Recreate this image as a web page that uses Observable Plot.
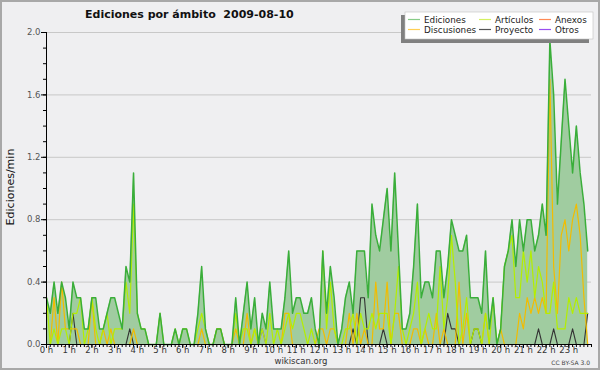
<!DOCTYPE html>
<html><head><meta charset="utf-8">
<script src="https://cdn.jsdelivr.net/npm/d3@7"></script>
<script src="https://cdn.jsdelivr.net/npm/@observablehq/plot@0.6"></script>
<style>
body{margin:0;background:#efeff1;}
#chart{width:600px;height:370px;position:relative;}
svg{display:block;}
</style></head><body><div id="chart"></div>
<script>
const title = "Ediciones por ámbito  2009-08-10";
const yLabel = "Ediciones/min";
const sourceText = "wikiscan.org";
const licenseText = "CC BY-SA 3.0";
const hourLabels = ["0 h","1 h","2 h","3 h","4 h","5 h","6 h","7 h","8 h","9 h","10 h","11 h","12 h","13 h","14 h","15 h","16 h","17 h","18 h","19 h","20 h","21 h","22 h","23 h"];
const yTicks = [0, 0.4, 0.8, 1.2, 1.6, 2.0];
const legendNames = ["Ediciones","Artículos","Anexos","Discusiones","Proyecto","Otros"];

// edits per minute, one value per 10-minute slot (144 slots)
const ediciones = [0.3,0.2,0.4,0.2,0.4,0.3,0.1,0.4,0.3,0.3,
 0.1,0.1,0.3,0.3,0.1,0.1,0.2,0.3,0.3,0.2,
 0.1,0.5,0.4,1.1,0.2,0.1,0.1,0,0,0,
 0.2,0,0,0,0.1,0,0.1,0.1,0,0,
 0.2,0.5,0.1,0,0,0.1,0.1,0,0,0,
 0.3,0,0.2,0.4,0.1,0.3,0,0.2,0.1,0.4,
 0.1,0.1,0.1,0.3,0.6,0.2,0.3,0.3,0.2,0.2,
 0.3,0.1,0,0.6,0.2,0.5,0.3,0,0.1,0.3,
 0.4,0.2,0.6,0.6,0.6,0.3,0.9,0.7,0.6,0.8,
 1.0,0.6,1.1,0.6,0.1,0.1,0.2,0.5,0.9,0.3,
 0.4,0.4,0.3,0.6,0.6,0.3,0.5,0.8,0.7,0.6,
 0.6,0.7,0.3,0.3,0.3,0.2,0.6,0.1,0.3,0,
 0.1,0.5,0.6,0.8,0.5,0.8,0.6,0.8,0.8,0.6,
 0.7,0.9,0.7,1.95,1.6,0.9,1.3,1.7,1.4,1.1,
 1.4,1.1,0.9,0.6];
const articulos = [0.3,0,0.1,0,0.1,0.1,0,0.2,0.2,0.3,
 0,0.1,0.3,0.1,0,0.1,0.2,0,0.1,0.1,
 0.1,0.4,0.2,0.9,0.2,0.1,0.1,0,0,0,
 0.2,0,0,0,0.1,0,0.1,0.1,0,0,
 0.1,0.2,0.1,0,0,0.1,0.1,0,0,0,
 0.2,0,0.1,0.1,0,0.1,0,0.1,0,0.2,
 0,0.1,0,0.1,0.2,0.1,0.2,0.2,0.1,0,
 0.1,0,0,0.6,0.1,0.4,0.1,0,0,0.1,
 0.1,0.2,0,0.2,0.1,0.1,0.2,0.1,0.2,0.2,
 0.2,0,0.2,0.5,0.1,0,0.1,0.2,0.4,0,
 0.1,0.2,0.1,0.1,0.5,0.1,0.3,0.7,0.4,0,
 0.1,0.3,0,0.1,0.1,0,0.2,0,0.3,0,
 0.1,0.5,0.6,0.7,0.3,0.3,0.6,0.4,0.6,0.3,
 0.5,0.4,0.2,0.2,0.4,0.1,0.1,0.1,0.3,0.2,
 0.3,0.2,0.2,0.2];
const anexos = new Array(144).fill(0);
const discusiones = [0,0,0.3,0,0.4,0.1,0.1,0.1,0.1,0,
 0,0,0.3,0,0,0.1,0,0.1,0,0,
 0,0,0,0.1,0,0,0,0,0,0,
 0,0,0,0,0,0,0,0,0,0,
 0,0.1,0,0,0,0.1,0.1,0,0,0,
 0.1,0,0,0.2,0,0.1,0,0,0,0,
 0,0,0,0.2,0.2,0,0,0,0,0,
 0,0,0.1,0.1,0,0.1,0.1,0,0,0,
 0.2,0,0.2,0,0.1,0,0,0.4,0.1,0.1,
 0.4,0,0.2,0.2,0,0,0,0.1,0.1,0,
 0.1,0,0,0.2,0,0.1,0,0,0,0.4,
 0,0.2,0,0,0,0,0.2,0,0,0,
 0.1,0,0,0,0,0.2,0.1,0.3,0.2,0.3,
 0.2,0.3,0.2,1.7,0.5,0.2,0.7,0.8,0.6,0.8,
 0.9,0.7,0.3,0];
const proyecto = [0,0,0,0,0,0,0,0.2,0,0,
 0,0,0,0,0,0,0,0,0,0,
 0,0,0.1,0,0,0,0,0,0,0,
 0,0,0,0,0,0,0,0,0,0,
 0,0,0,0,0,0,0,0,0,0,
 0,0,0,0,0,0,0,0,0,0,
 0,0,0,0,0,0,0,0,0,0,
 0,0,0,0,0,0,0,0,0,0,
 0,0.1,0,0.3,0.3,0,0,0,0,0.1,
 0,0,0,0,0,0,0,0,0,0,
 0,0,0,0,0,0,0.2,0.1,0.1,0,
 0,0,0,0.1,0.1,0,0,0,0,0,
 0,0,0,0,0,0,0,0,0,0,
 0.1,0,0,0,0.1,0,0,0,0,0.1,
 0,0,0,0.2];
const otros = new Array(144).fill(0);
otros[57] = 0.1;

const idx = d3.range(ediciones.length);
const tx = i => i / 6;
const minorY = d3.range(0, 21).map(d => d / 10);
const minorX = d3.range(0, 145).map(d => d / 6);

const lineColors = {ed: "#3aae3a", art: "#b4ee00", disc: "#f2bc00", proj: "#333333", otros: "#8a2be2"};

const chart = Plot.plot({
  width: 600, height: 370,
  marginLeft: 46, marginRight: 9, marginTop: 32, marginBottom: 26,
  style: {background: "transparent", fontFamily: "DejaVu Sans", overflow: "visible"},
  x: {domain: [0, 24], axis: null},
  y: {domain: [0, 2], axis: null},
  marks: [
    Plot.gridY(yTicks.slice(1), {stroke: "#c8c8c8", strokeOpacity: 1, strokeWidth: 1}),
    Plot.areaY(idx, {x: tx, y: i => ediciones[i], fill: "#a0cca0", fillOpacity: 1}),
    Plot.lineY(idx, {x: tx, y: i => otros[i], stroke: lineColors.otros, strokeWidth: 1.2}),
    Plot.lineY(idx, {x: tx, y: i => proyecto[i], stroke: lineColors.proj, strokeWidth: 1.1}),
    Plot.lineY(idx, {x: tx, y: i => discusiones[i], stroke: lineColors.disc, strokeWidth: 1.2}),
    Plot.lineY(idx, {x: tx, y: i => articulos[i], stroke: lineColors.art, strokeWidth: 1.2}),
    Plot.lineY(idx, {x: tx, y: i => ediciones[i], stroke: lineColors.ed, strokeWidth: 1.5}),
    Plot.ruleY([0], {stroke: "#000"}),
    Plot.ruleX([0], {stroke: "#000"}),
    Plot.axisY({ticks: minorY, tickSize: 3, tickFormat: () => "", color: "#000"}),
    Plot.axisY({ticks: yTicks, tickSize: 5, tickFormat: () => "", color: "#000"}),
    Plot.axisY({ticks: yTicks, tickSize: 0, tickPadding: 6, tickFormat: d3.format(".1f"), color: "#555", fontSize: 8.5}),
    Plot.axisX({ticks: minorX, tickSize: 3, tickFormat: () => "", color: "#000"}),
    Plot.axisX({ticks: d3.range(24), tickSize: 4, tickFormat: () => "", color: "#000"}),
    Plot.axisX({ticks: d3.range(24), tickSize: 0, tickPadding: 2, tickFormat: d => hourLabels[d], color: "#333", fontSize: 8.5})
  ]
});
document.getElementById("chart").appendChild(chart);

const svg = d3.select(chart);
const font = "DejaVu Sans";
// frame border
svg.append("rect").attr("x", 1).attr("y", 1).attr("width", 598).attr("height", 368)
  .attr("fill", "none").attr("stroke", "#a8a8a8").attr("stroke-width", 2);
// title
svg.append("text").attr("x", 85).attr("y", 18).attr("text-anchor", "start").text(title)
  .attr("font-family", font).attr("font-weight", "bold").attr("font-size", 11).attr("fill", "#111")
  .style("white-space", "pre");
// y label
svg.append("text").attr("transform", "translate(14,187) rotate(-90)").attr("text-anchor", "middle")
  .text(yLabel).attr("font-family", font).attr("font-size", 11).attr("fill", "#111");
// source & license
svg.append("text").attr("x", 301).attr("y", 364).attr("text-anchor", "middle").text(sourceText)
  .attr("font-family", font).attr("font-size", 8.5).attr("fill", "#333");
svg.append("text").attr("x", 590).attr("y", 365).attr("text-anchor", "end").text(licenseText)
  .attr("font-family", font).attr("font-size", 6).attr("fill", "#444");

// legend
const lg = svg.append("g");
lg.append("rect").attr("x", 401).attr("y", 15).attr("width", 188).attr("height", 28).attr("fill", "#808080");
lg.append("rect").attr("x", 405).attr("y", 12).attr("width", 188).attr("height", 27)
  .attr("fill", "#fff").attr("stroke", "#c0c0c0").attr("stroke-width", 0.6);
const swatch = ["#88cc88", "#d4f060", "#ff8a55", "#ffcf55", "#555555", "#9a4ff0"];
const colX = [408, 479, 539];
const rowY = [19.5, 29.5];
legendNames.forEach((name, k) => {
  const c = k % 3, r = Math.floor(k / 3);
  lg.append("line").attr("x1", colX[c]).attr("x2", colX[c] + 12).attr("y1", rowY[r]).attr("y2", rowY[r])
    .attr("stroke", swatch[k]).attr("stroke-width", 1.2);
  lg.append("text").attr("x", colX[c] + 16).attr("y", rowY[r] + 3.5).attr("text-anchor", "start").text(name)
    .attr("font-family", font).attr("font-size", 8.8).attr("fill", "#222");
});
</script></body></html>
